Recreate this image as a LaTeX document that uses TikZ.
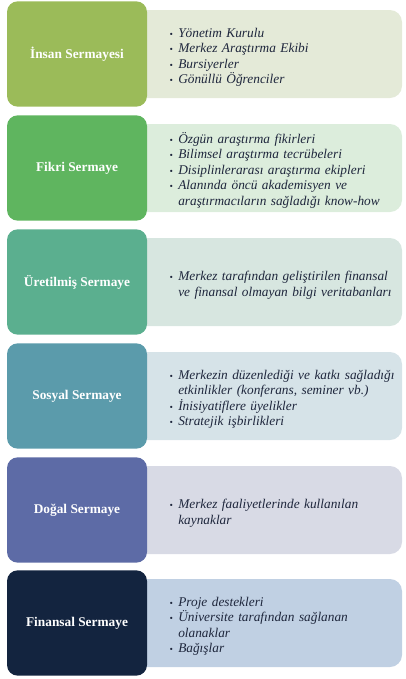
\documentclass[tikz,border=0pt]{standalone}
\usepackage{fontspec}
\setmainfont{Liberation Serif}
\usepackage{enumitem}
\usepackage{tikz}
\usepackage{xcolor}
\usetikzlibrary{positioning}
\definecolor{insanc}{RGB}{155,187,89}
\definecolor{insanl}{RGB}{228,234,216}
\definecolor{fikric}{RGB}{95,181,95}
\definecolor{fikril}{RGB}{220,237,220}
\definecolor{uretc}{RGB}{91,175,143}
\definecolor{uretl}{RGB}{215,230,224}
\definecolor{sosyc}{RGB}{91,155,171}
\definecolor{sosyl}{RGB}{214,227,232}
\definecolor{dogac}{RGB}{93,107,166}
\definecolor{dogal}{RGB}{216,218,229}
\definecolor{finc}{RGB}{19,36,63}
\definecolor{finl}{RGB}{192,208,227}
\definecolor{itemc}{RGB}{30,38,60}
\newcommand{\ilist}[1]{%
  \begin{itemize}[leftmargin=7.5pt,labelsep=4pt,itemsep=0pt,topsep=0pt,
                  parsep=0pt,partopsep=0pt,label={\scalebox{0.7}{\textbullet}}]
  #1
  \end{itemize}}
\tikzset{
  capbox/.style={draw=none,rounded corners=8pt,minimum width=105pt,
                 minimum height=79pt,text=white,
                 font=\fontsize{10}{12}\selectfont\bfseries},
  listbox/.style={draw=none,rounded corners=9pt,minimum height=66pt},
  listtext/.style={anchor=west,text width=175pt,text=itemc,inner sep=0pt,
                   font=\fontsize{10}{11.6}\selectfont\itshape}
}

\begin{document}
\begin{tikzpicture}[x=0.75pt,y=-0.75pt]
\useasboundingbox (0,0) rectangle (406,679);
% row 1
\node[listbox,fill=insanl,minimum width=226.5pt] (insanL) at (251,54) {};
\node[capbox,fill=insanc] (insan) at (77,54) {İnsan Sermayesi};
\node[listtext] (insanT) at (168,54) {\ilist{
  \item Yönetim Kurulu
  \item Merkez Araştırma Ekibi
  \item Bursiyerler
  \item Gönüllü Öğrenciler}};
% row 2
\node[listbox,fill=fikril,minimum width=226.5pt] (fikriL) at (251,168) {};
\node[capbox,fill=fikric] (fikri) at (77,168) {Fikri Sermaye};
\node[listtext] (fikriT) at (168,168) {\ilist{
  \item Özgün araştırma fikirleri
  \item Bilimsel araştırma tecrübeleri
  \item Disiplinlerarası araştırma ekipleri
  \item Alanında öncü akademisyen ve\newline araştırmacıların sağladığı know-how}};
% row 3
\node[listbox,fill=uretl,minimum width=226.5pt] (uretL) at (251,282) {};
\node[capbox,fill=uretc] (uret) at (77,282) {Üretilmiş Sermaye};
\node[listtext] (uretT) at (168,282) {\ilist{
  \item Merkez tarafından geliştirilen finansal\newline ve finansal olmayan bilgi veritabanları}};
% row 4
\node[listbox,fill=sosyl,minimum width=226.5pt] (sosyL) at (251,396) {};
\node[capbox,fill=sosyc] (sosy) at (77,396) {Sosyal Sermaye};
\node[listtext] (sosyT) at (168,396) {\ilist{
  \item Merkezin düzenlediği ve katkı sağladığı\newline etkinlikler (konferans, seminer vb.)
  \item İnisiyatiflere üyelikler
  \item Stratejik işbirlikleri}};
% row 5
\node[listbox,fill=dogal,minimum width=226.5pt] (dogaL) at (251,510) {};
\node[capbox,fill=dogac] (doga) at (77,510) {Doğal Sermaye};
\node[listtext] (dogaT) at (168,510) {\ilist{
  \item Merkez faaliyetlerinde kullanılan\newline kaynaklar}};
% row 6
\node[listbox,fill=finl,minimum width=226.5pt] (finL) at (251,623) {};
\node[capbox,fill=finc] (fin) at (77,623) {Finansal Sermaye};
\node[listtext] (finT) at (168,623) {\ilist{
  \item Proje destekleri
  \item Üniversite tarafından sağlanan\newline olanaklar
  \item Bağışlar}};
\end{tikzpicture}
\end{document}
